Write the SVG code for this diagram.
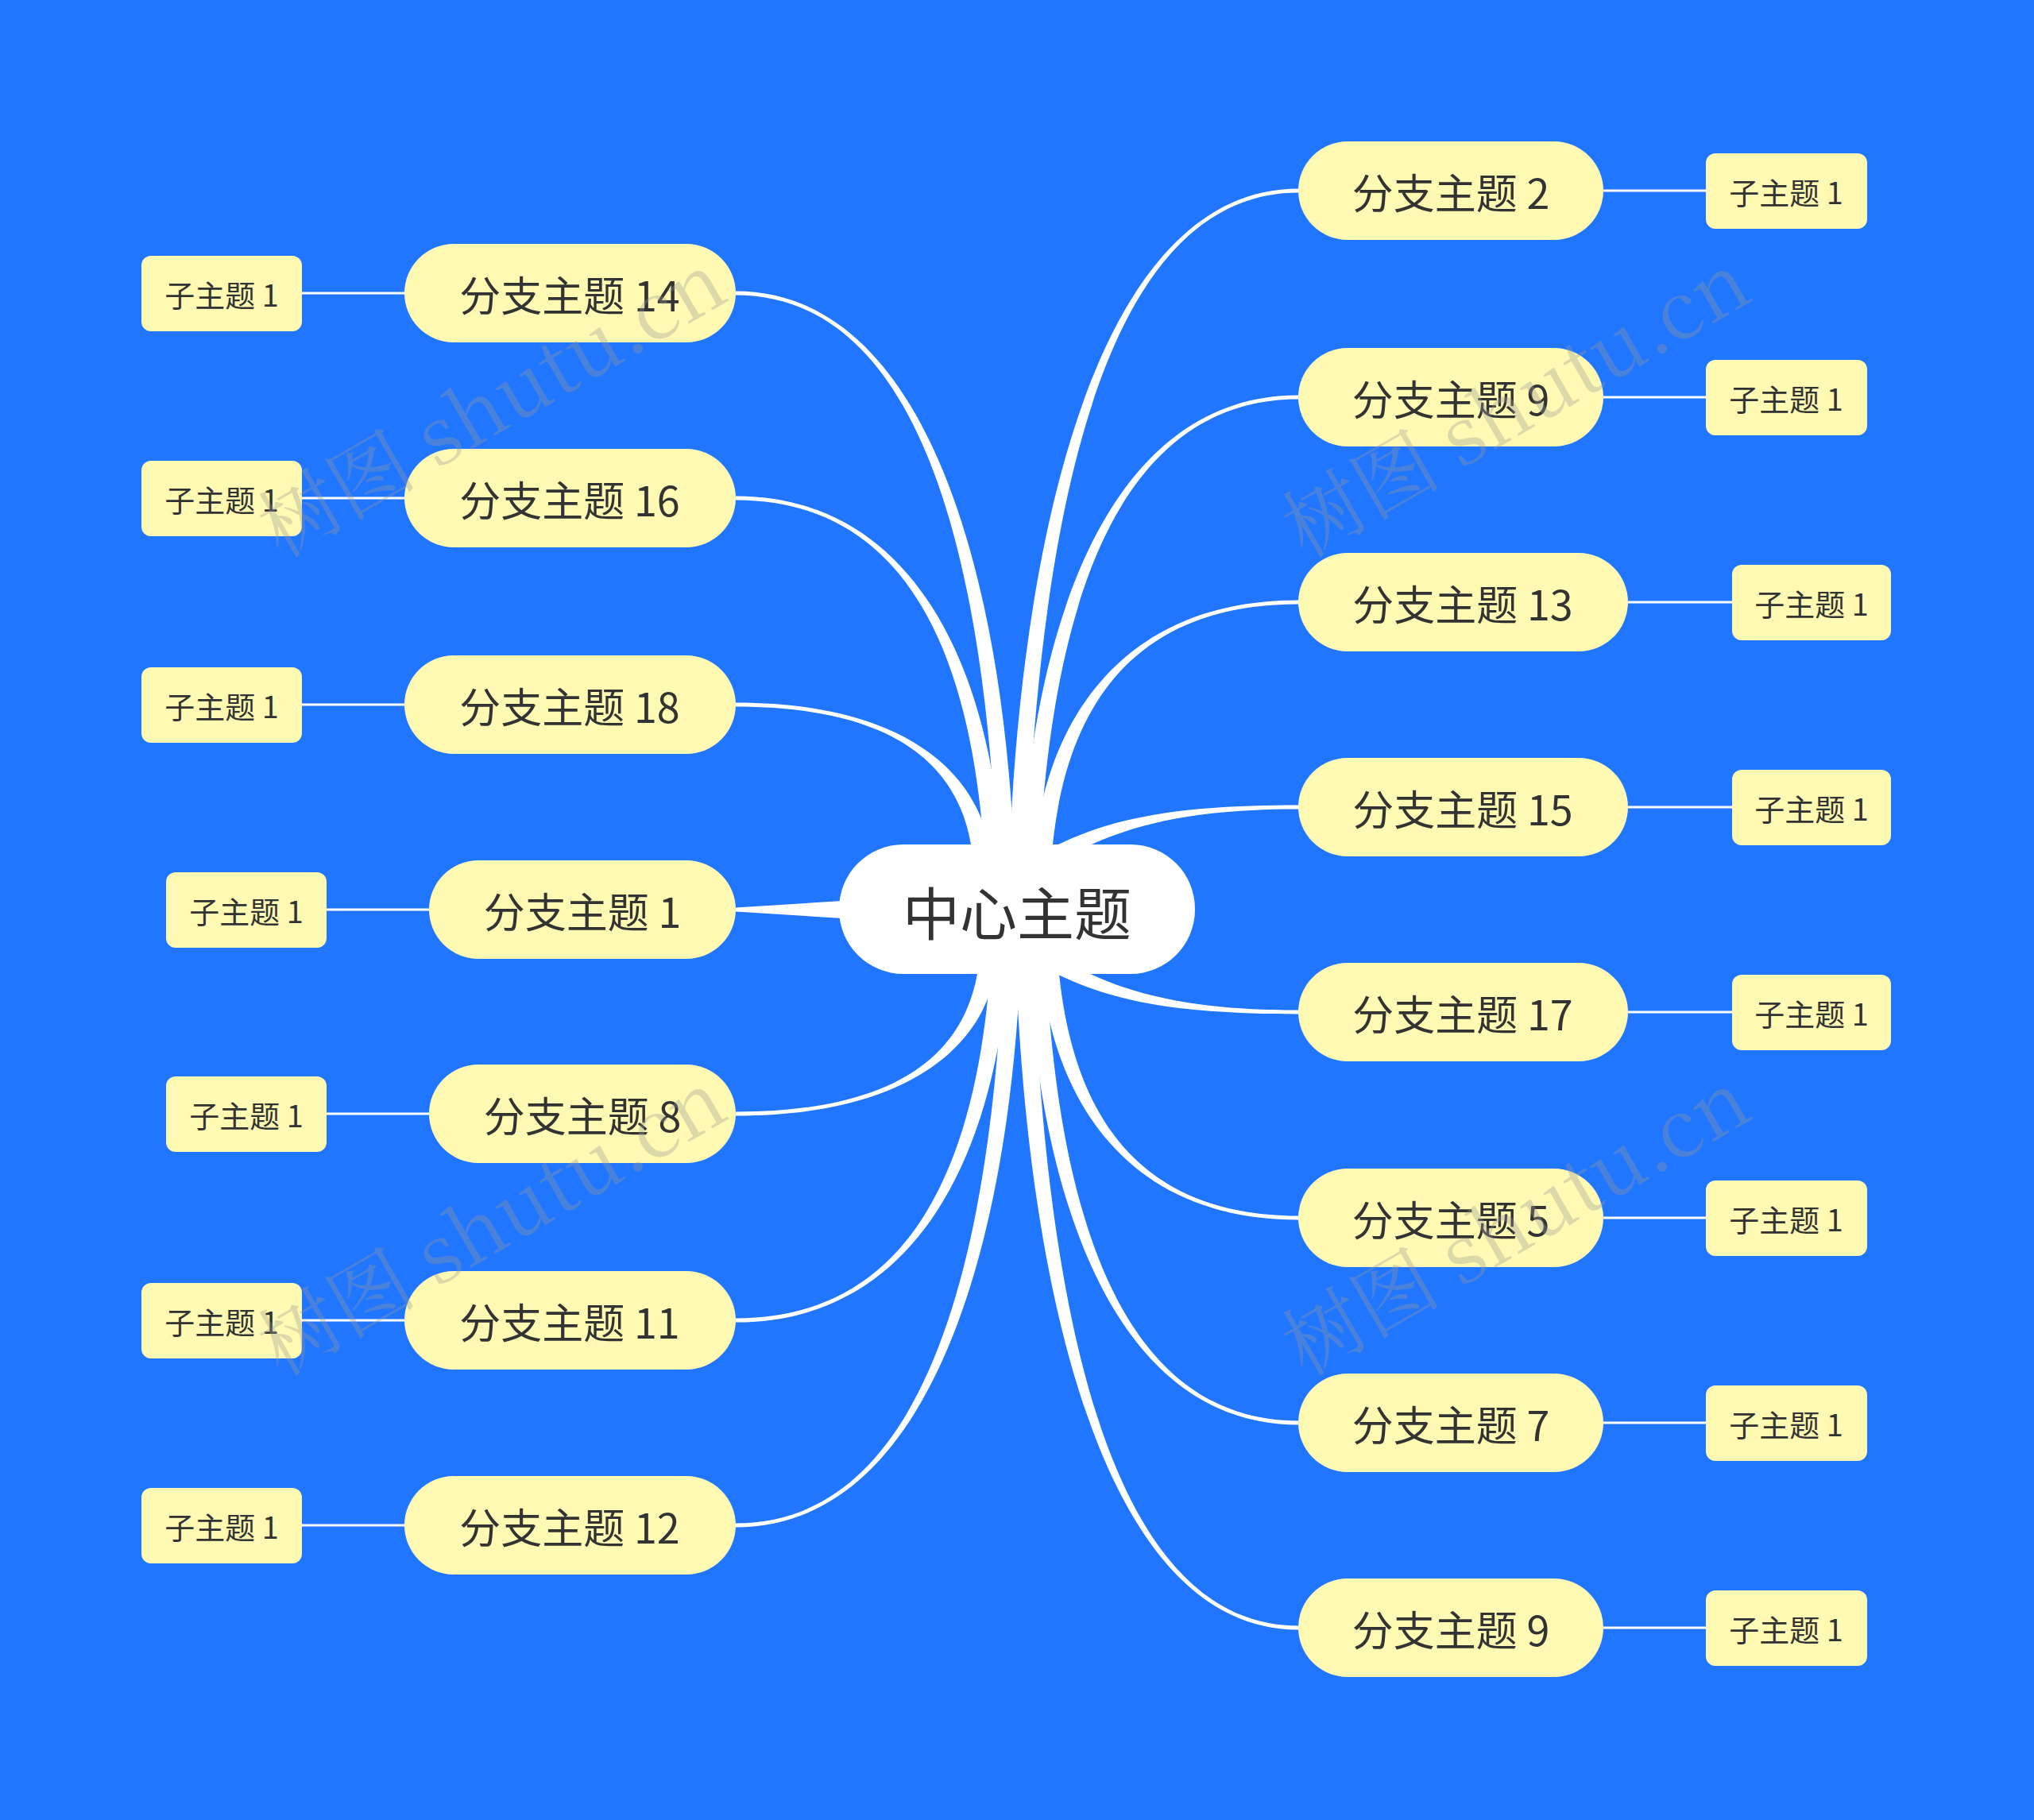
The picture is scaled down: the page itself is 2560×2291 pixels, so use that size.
<svg xmlns="http://www.w3.org/2000/svg" width="2560" height="2291" viewBox="0 0 2560 2291">
<style>
.b{fill:#FFFAB3}
.bt{font-family:"Noto Sans CJK SC","Noto Sans",sans-serif;font-size:52px;fill:#333;text-anchor:middle;dominant-baseline:central}
.st{font-family:"Noto Sans CJK SC","Noto Sans",sans-serif;font-size:38px;fill:#333;text-anchor:middle;dominant-baseline:central}
.c{fill:#fff}
.l{stroke:#fff;stroke-width:3;fill:none}
.wm{font-family:"Noto Serif CJK SC","Liberation Serif","Noto Sans CJK SC",serif;font-size:100px;fill:#999;fill-opacity:0.35;text-anchor:middle}
</style>
<rect width="2560" height="2291" fill="#2176FF"/>
<g id="connectors">
<path class="c" d="M1271,1063 C1289,652 1388,237.5 1634,237.5 L1634,242.5 C1388,242.5 1311,652 1293,1063 Z"/>
<path class="c" d="M1287,1063 C1304,782 1399,497.5 1634,497.5 L1634,502.5 C1399,502.5 1326,782 1309,1063 Z"/>
<path class="c" d="M1303,1063 C1319,911 1410,755.5 1634,755.5 L1634,760.5 C1410,760.5 1341,911 1325,1063 Z"/>
<path class="c" d="M1330,1064 C1400,1030 1480,1013.5 1634,1013.5 L1634,1018.5 C1480,1018.5 1400,1045 1330,1086 Z"/>
<path class="c" d="M1330,1204 C1400,1245 1480,1271.5 1634,1271.5 L1634,1276.5 C1480,1276.5 1400,1260 1330,1226 Z"/>
<path class="c" d="M1311,1226 C1327,1380 1416,1535.5 1634,1535.5 L1634,1530.5 C1416,1530.5 1349,1380 1333,1226 Z"/>
<path class="c" d="M1295,1226 C1311,1509 1404,1793.5 1634,1793.5 L1634,1788.5 C1404,1788.5 1333,1509 1317,1226 Z"/>
<path class="c" d="M1279,1226 C1296,1638 1393,2051.5 1634,2051.5 L1634,2046.5 C1393,2046.5 1318,1638 1301,1226 Z"/>
<path class="c" d="M1254,1063 C1237,716 1163,371.5 926,371.5 L926,366.5 C1163,366.5 1259,716 1276,1063 Z"/>
<path class="c" d="M1238,1063 C1222,845 1152,629.5 926,629.5 L926,624.5 C1152,624.5 1244,845 1260,1063 Z"/>
<path class="c" d="M1222,1063 C1207,975 1141,889.5 926,889.5 L926,884.5 C1141,884.5 1229,975 1244,1063 Z"/>
<path class="c" d="M1060,1134 L926,1142.5 L926,1147.5 L1060,1156 Z"/>
<path class="c" d="M1230,1226 C1214,1314 1146,1399.5 926,1399.5 L926,1404.5 C1146,1404.5 1236,1314 1252,1226 Z"/>
<path class="c" d="M1246,1226 C1229,1444 1158,1659.5 926,1659.5 L926,1664.5 C1158,1664.5 1251,1444 1268,1226 Z"/>
<path class="c" d="M1262,1226 C1245,1573 1169,1917.5 926,1917.5 L926,1922.5 C1169,1922.5 1267,1573 1284,1226 Z"/>
<path class="l" d="M2018,240H2147M2018,500H2147M2049,758H2180M2049,1016H2180M2049,1274H2180M2018,1533H2147M2018,1791H2147M2018,2049H2147"/>
<path class="l" d="M509,369H380M509,627H380M509,887H380M540,1145H411M540,1402H411M509,1662H380M509,1920H380"/>
</g>
<g id="center"><rect x="1056" y="1063" width="448" height="163" rx="81" fill="#fff"/><text class="bt" x="1280" y="1145" font-size="72" style="font-size:72px">中心主题</text></g>
<g id="r1"><rect class="b" x="1634" y="178" width="384" height="124" rx="62"/><text class="bt" x="1826" y="240">分支主题 2</text></g>
<g id="r2"><rect class="b" x="1634" y="438" width="384" height="124" rx="62"/><text class="bt" x="1826" y="500">分支主题 9</text></g>
<g id="r3"><rect class="b" x="1634" y="696" width="415" height="124" rx="62"/><text class="bt" x="1841" y="758">分支主题 13</text></g>
<g id="r4"><rect class="b" x="1634" y="954" width="415" height="124" rx="62"/><text class="bt" x="1841" y="1016">分支主题 15</text></g>
<g id="r5"><rect class="b" x="1634" y="1212" width="415" height="124" rx="62"/><text class="bt" x="1841" y="1274">分支主题 17</text></g>
<g id="r6"><rect class="b" x="1634" y="1471" width="384" height="124" rx="62"/><text class="bt" x="1826" y="1533">分支主题 5</text></g>
<g id="r7"><rect class="b" x="1634" y="1729" width="384" height="124" rx="62"/><text class="bt" x="1826" y="1791">分支主题 7</text></g>
<g id="r8"><rect class="b" x="1634" y="1987" width="384" height="124" rx="62"/><text class="bt" x="1826" y="2049">分支主题 9</text></g>
<g id="l1"><rect class="b" x="509" y="307" width="417" height="124" rx="62"/><text class="bt" x="717" y="369">分支主题 14</text></g>
<g id="l2"><rect class="b" x="509" y="565" width="417" height="124" rx="62"/><text class="bt" x="717" y="627">分支主题 16</text></g>
<g id="l3"><rect class="b" x="509" y="825" width="417" height="124" rx="62"/><text class="bt" x="717" y="887">分支主题 18</text></g>
<g id="l4"><rect class="b" x="540" y="1083" width="386" height="124" rx="62"/><text class="bt" x="733" y="1145">分支主题 1</text></g>
<g id="l5"><rect class="b" x="540" y="1340" width="386" height="124" rx="62"/><text class="bt" x="733" y="1402">分支主题 8</text></g>
<g id="l6"><rect class="b" x="509" y="1600" width="417" height="124" rx="62"/><text class="bt" x="717" y="1662">分支主题 11</text></g>
<g id="l7"><rect class="b" x="509" y="1858" width="417" height="124" rx="62"/><text class="bt" x="717" y="1920">分支主题 12</text></g>
<g id="subs">
<g id="sr1"><rect class="b" x="2147" y="193" width="203" height="95" rx="12"/><text class="st" x="2248" y="240">子主题 1</text></g>
<g id="sr2"><rect class="b" x="2147" y="453" width="203" height="95" rx="12"/><text class="st" x="2248" y="500">子主题 1</text></g>
<g id="sr3"><rect class="b" x="2180" y="711" width="200" height="95" rx="12"/><text class="st" x="2280" y="758">子主题 1</text></g>
<g id="sr4"><rect class="b" x="2180" y="969" width="200" height="95" rx="12"/><text class="st" x="2280" y="1016">子主题 1</text></g>
<g id="sr5"><rect class="b" x="2180" y="1227" width="200" height="95" rx="12"/><text class="st" x="2280" y="1274">子主题 1</text></g>
<g id="sr6"><rect class="b" x="2147" y="1486" width="203" height="95" rx="12"/><text class="st" x="2248" y="1533">子主题 1</text></g>
<g id="sr7"><rect class="b" x="2147" y="1744" width="203" height="95" rx="12"/><text class="st" x="2248" y="1791">子主题 1</text></g>
<g id="sr8"><rect class="b" x="2147" y="2002" width="203" height="95" rx="12"/><text class="st" x="2248" y="2049">子主题 1</text></g>
<g id="sl1"><rect class="b" x="178" y="322" width="202" height="95" rx="12"/><text class="st" x="279" y="369">子主题 1</text></g>
<g id="sl2"><rect class="b" x="178" y="580" width="202" height="95" rx="12"/><text class="st" x="279" y="627">子主题 1</text></g>
<g id="sl3"><rect class="b" x="178" y="840" width="202" height="95" rx="12"/><text class="st" x="279" y="887">子主题 1</text></g>
<g id="sl4"><rect class="b" x="209" y="1098" width="202" height="95" rx="12"/><text class="st" x="310" y="1145">子主题 1</text></g>
<g id="sl5"><rect class="b" x="209" y="1355" width="202" height="95" rx="12"/><text class="st" x="310" y="1402">子主题 1</text></g>
<g id="sl6"><rect class="b" x="178" y="1615" width="202" height="95" rx="12"/><text class="st" x="279" y="1662">子主题 1</text></g>
<g id="sl7"><rect class="b" x="178" y="1873" width="202" height="95" rx="12"/><text class="st" x="279" y="1920">子主题 1</text></g>
</g>
<g id="watermarks">
<text class="wm" transform="translate(637,540) rotate(-30)">树图 shutu.cn</text>
<text class="wm" transform="translate(637,1570) rotate(-30)">树图 shutu.cn</text>
<text class="wm" transform="translate(1926,540) rotate(-30)">树图 shutu.cn</text>
<text class="wm" transform="translate(1926,1570) rotate(-30)">树图 shutu.cn</text>
</g>
</svg>
